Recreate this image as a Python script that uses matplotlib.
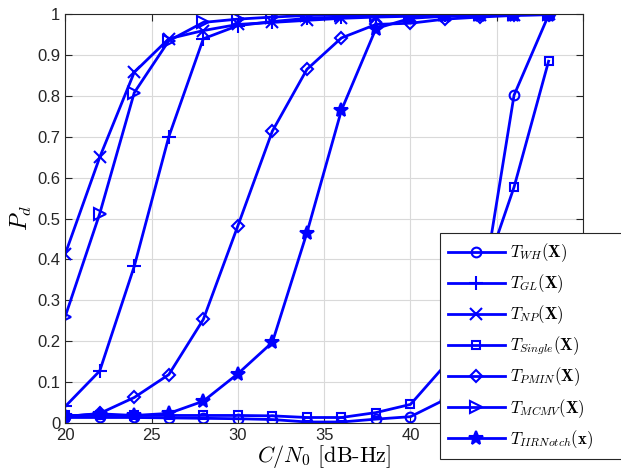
import matplotlib
matplotlib.use("Agg")
import matplotlib.pyplot as plt

plt.rcParams['mathtext.fontset'] = 'cm'
plt.rcParams['font.family'] = ['Liberation Sans', 'DejaVu Sans']

cn0 = [20, 22, 24, 26, 28, 30, 32, 34, 36, 38, 40, 42, 44, 46, 48]

pd_wh = [0.013, 0.013, 0.013, 0.012, 0.011, 0.01, 0.008, 0.002, 0.002, 0.009, 0.015, 0.057, 0.28, 0.802, 0.998]
pd_gl = [0.04, 0.127, 0.383, 0.70, 0.94, 0.972, 0.982, 0.99, 0.993, 0.996, 0.998, 0.999, 1.0, 1.0, 1.0]
pd_np = [0.413, 0.65, 0.858, 0.94, 0.96, 0.975, 0.98, 0.985, 0.99, 0.993, 0.995, 0.997, 0.998, 0.999, 1.0]
pd_single = [0.018, 0.018, 0.018, 0.018, 0.018, 0.018, 0.017, 0.013, 0.013, 0.025, 0.045, 0.141, 0.33, 0.577, 0.885]
pd_pmin = [0.015, 0.023, 0.062, 0.118, 0.253, 0.482, 0.714, 0.865, 0.942, 0.975, 0.978, 0.988, 0.993, 0.997, 0.999]
pd_mcmv = [0.26, 0.512, 0.808, 0.935, 0.98, 0.988, 0.993, 0.997, 0.998, 0.999, 0.999, 1.0, 1.0, 1.0, 1.0]
pd_iir = [0.016, 0.022, 0.018, 0.023, 0.053, 0.12, 0.197, 0.465, 0.765, 0.965, 0.99, 0.995, 0.997, 0.998, 0.999]

series = [
    (pd_wh, 'o', r'$T_{WH}(\mathbf{X})$'),
    (pd_gl, '+', r'$T_{GL}(\mathbf{X})$'),
    (pd_np, 'x', r'$T_{NP}(\mathbf{X})$'),
    (pd_single, 's', r'$T_{Single}(\mathbf{X})$'),
    (pd_pmin, 'D', r'$T_{PMIN}(\mathbf{X})$'),
    (pd_mcmv, '>', r'$T_{MCMV}(\mathbf{X})$'),
    (pd_iir, '*', r'$T_{IIRNotch}(\mathbf{x})$'),
]

fig = plt.figure(figsize=(6.21, 4.74), dpi=100)
ax = fig.add_axes([0.105, 0.108, 0.834, 0.862])

for vals, mk, lab in series:
    size = {'o': 7, '+': 10, 'x': 9, 's': 6, 'D': 6, '>': 8, '*': 10}[mk]
    ax.plot(cn0, vals, color='blue', marker=mk, markersize=size, linewidth=2,
            markerfacecolor='blue' if mk == '*' else 'none',
            markeredgecolor='blue', markeredgewidth=1.5, label=lab)

ax.set_xlim(20, 50)
ax.set_ylim(0, 1)
ax.set_xticks(range(20, 51, 5))
ax.set_yticks([i / 10 for i in range(11)])
ax.set_yticklabels(['0'] + [f'{i/10:.1f}' for i in range(1, 10)] + ['1'])
ax.grid(True, color='#d9d9d9', linewidth=0.8)
ax.set_axisbelow(True)
ax.tick_params(direction='in', top=True, right=True, labelsize=12, colors='#262626', length=5)
for sp in ax.spines.values():
    sp.set_color('#262626')
    sp.set_linewidth(0.8)

ax.set_xlabel(r'$C/N_0\ [\mathrm{dB\text{-}Hz}]$', fontsize=16, labelpad=0)
ax.set_ylabel(r'$P_d$', fontsize=17, labelpad=2)

leg = fig.legend(loc='upper left', bbox_to_anchor=(0.708, 0.04, 0.35, 0.468),
                 mode='expand', fontsize=12, handlelength=3.4, handletextpad=0.3,
                 labelspacing=0.5, borderpad=0.5,
                 borderaxespad=0, fancybox=False, framealpha=1, edgecolor='#262626')
leg.get_frame().set_linewidth(0.8)

fig.savefig('out.png', dpi=100)
